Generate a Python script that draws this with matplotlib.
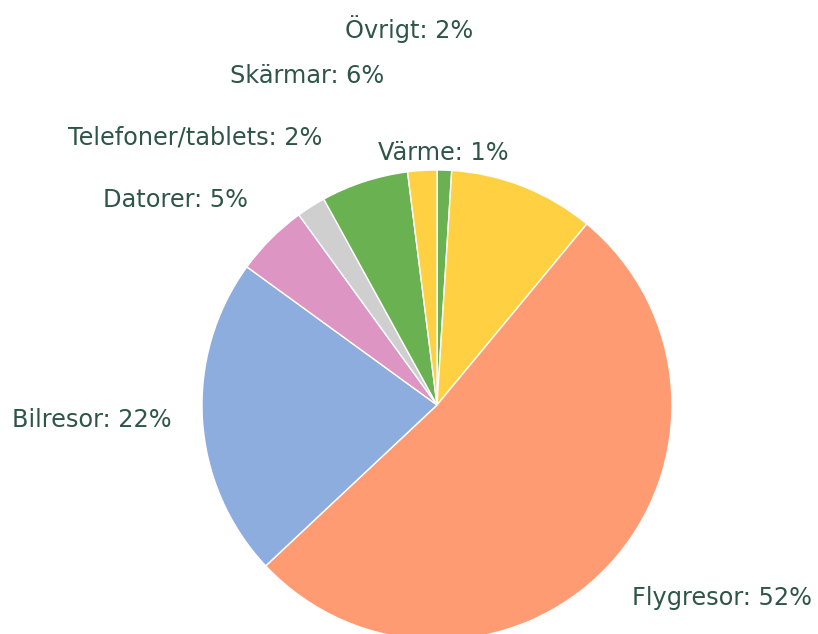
import matplotlib
matplotlib.use("Agg")
import matplotlib.pyplot as plt

# Data (clockwise from top)
categories = ["Värme", "", "Flygresor", "Bilresor", "Datorer",
              "Telefoner/tablets", "Skärmar", "Övrigt"]
values = [1, 10, 52, 22, 5, 2, 6, 2]
colors = ["#6ab251", "#ffd042", "#ff9b73", "#8daddf", "#dd95c4",
          "#cfcfcf", "#6ab251", "#ffd042"]

# Label anchor positions (pixel coords of reference, left/baseline)
label_pos = {
    "Värme": (378, 160),
    "Flygresor": (632, 605),
    "Bilresor": (12, 427),
    "Datorer": (103, 207),
    "Telefoner/tablets": (68, 145),
    "Skärmar": (230, 83),
    "Övrigt": (345, 38),
}

W, H = 818, 634
cx, cy, R = 437, 405, 235

fig = plt.figure(figsize=(W / 100, H / 100), dpi=100)
ax = fig.add_axes([0, 0, 1, 1])
ax.pie(values, colors=colors, startangle=90, counterclock=False,
       wedgeprops=dict(edgecolor="white", linewidth=1))
ax.set_xlim(-cx / R, (W - cx) / R)
ax.set_ylim((cy - H) / R, cy / R)
ax.set_aspect("auto")
ax.axis("off")

total = sum(values)
for cat, v in zip(categories, values):
    if not cat:
        continue
    px, py = label_pos[cat]
    ax.text((px - cx) / R, (cy - py) / R, f"{cat}: {round(100 * v / total)}%",
            ha="left", va="baseline", fontsize=17.3, color="#2e5548",
            family="DejaVu Sans")

fig.savefig("out.png", dpi=100)
